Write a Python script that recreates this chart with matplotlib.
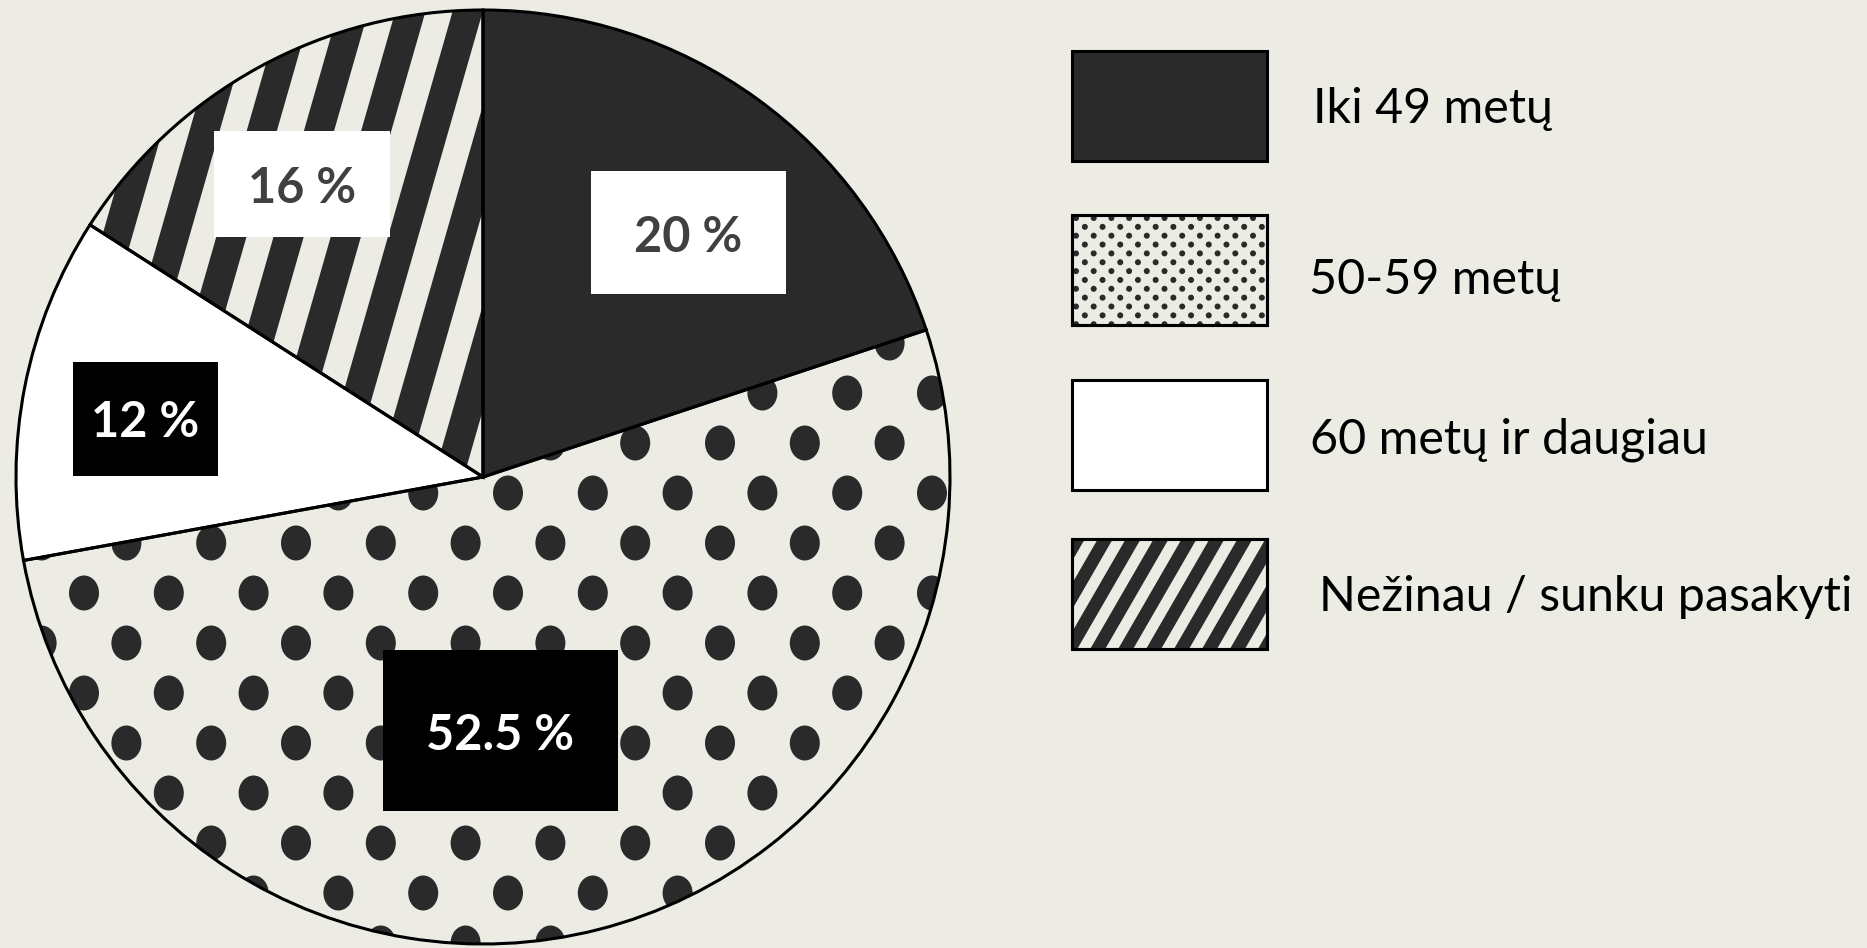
import numpy as np
import matplotlib.pyplot as plt
from matplotlib.patches import Rectangle, Ellipse, Circle, Polygon

# dydis pikseliais
W, H = 1867, 948
BG = '#ecebe4'
DARK = '#2a2a2a'
GREY_TXT = '#404040'

# duomenys
groups = ['Iki 49 metų', '50-59 metų', '60 metų ir daugiau', 'Nežinau / sunku pasakyti']
shares = [20, 52.5, 12, 16]
labels = ['20 %', '52.5 %', '12 %', '16 %']

plt.rcParams['font.family'] = ['Lato', 'DejaVu Sans']

fig = plt.figure(figsize=(W / 100, H / 100), dpi=100, facecolor=BG)
ax = fig.add_axes([0, 0, 1, 1])


def py(y):
    # pikselio y (is virsaus) -> duomenu y
    return H - y


def stripes(clip, origin, ang, period, width, n_range, L):
    d = np.array([np.cos(np.radians(ang)), np.sin(np.radians(ang))])
    n = np.array([d[1], -d[0]])
    for i in n_range:
        c = np.array(origin) + n * period * i
        pts = [c - d * L - n * width / 2, c + d * L - n * width / 2,
               c + d * L + n * width / 2, c - d * L + n * width / 2]
        p = Polygon(pts, closed=True, fc=DARK, lw=0)
        ax.add_patch(p)
        p.set_clip_path(clip)


center = (483, py(477))
R = 467
faces = [DARK, BG, 'white', BG]
wedges, _ = ax.pie(shares, colors=faces, startangle=90, counterclock=False,
                   center=center, radius=R, wedgeprops=dict(linewidth=0))

# taskai 50-59
for m in range(-12, 12):
    yy = 493 + 50 * m
    x0 = 84 + (42.4 if m % 2 else 0)
    for k in range(-2, 12):
        e = Ellipse((x0 + 84.8 * k, py(yy)), 30, 35, color=DARK, lw=0)
        ax.add_patch(e)
        e.set_clip_path(wedges[1])

# juostos nezinau
stripes(wedges[3], (408, py(20)), 74, 55, 29, range(-12, 12), 700)

# konturai
ax.pie(shares, colors=['none'] * 4, startangle=90, counterclock=False,
       center=center, radius=R,
       wedgeprops=dict(edgecolor='black', linewidth=2.2, fill=False))

# etiketes
boxes = [(591, 171, 786, 294), (383, 650, 618, 811), (73, 362, 218, 476), (214, 131, 390, 237)]
box_fc = ['white', 'black', 'black', 'white']
txt_c = [GREY_TXT, 'white', 'white', GREY_TXT]
base_off = [19, 20, 18, 19]
for i in range(4):
    x1, y1, x2, y2 = boxes[i]
    ax.add_patch(Rectangle((x1, py(y2)), x2 - x1, y2 - y1, fc=box_fc[i], lw=0))
    ax.text((x1 + x2) / 2, py((y1 + y2) / 2 + base_off[i]), labels[i],
            ha='center', va='baseline', fontsize=35, fontweight='bold', color=txt_c[i])

# legenda
leg_tops = [51, 215, 380, 539]
leg_base = [123, 294, 453, 611]
leg_x = [1313, 1309, 1310, 1319]
lx, lw_, lh = 1072, 195, 110
leg_fc = [DARK, BG, 'white', BG]
for i in range(4):
    r = Rectangle((lx, py(leg_tops[i] + lh)), lw_, lh, fc=leg_fc[i], ec='black', lw=2.2)
    ax.add_patch(r)
    ax.text(leg_x[i], py(leg_base[i]), groups[i], ha='left', va='baseline',
            fontsize=34.8, color='black')

r2 = Rectangle((lx, py(leg_tops[1] + lh)), lw_, lh, fc='none', lw=0)
ax.add_patch(r2)
for i in range(-1, 24):
    for j in range(-1, 14):
        if (i + j) % 2 == 0:
            c = Circle((1076 + 8.85 * i, py(218 + 8.85 * j)), 3, color=DARK, lw=0)
            ax.add_patch(c)
            c.set_clip_path(r2)

r4 = Rectangle((lx, py(leg_tops[3] + lh)), lw_, lh, fc='none', lw=0)
ax.add_patch(r4)
stripes(r4, (1100, py(645)), 60, 24.2, 13, range(-3, 12), 200)
# ramelis ant virsaus
ax.add_patch(Rectangle((lx, py(leg_tops[3] + lh)), lw_, lh, fc='none', ec='black', lw=2.2))
ax.add_patch(Rectangle((lx, py(leg_tops[1] + lh)), lw_, lh, fc='none', ec='black', lw=2.2))

ax.set_xlim(0, W)
ax.set_ylim(0, H)
ax.set_aspect('equal')
ax.axis('off')

fig.savefig('out.png', dpi=100, facecolor=BG)
